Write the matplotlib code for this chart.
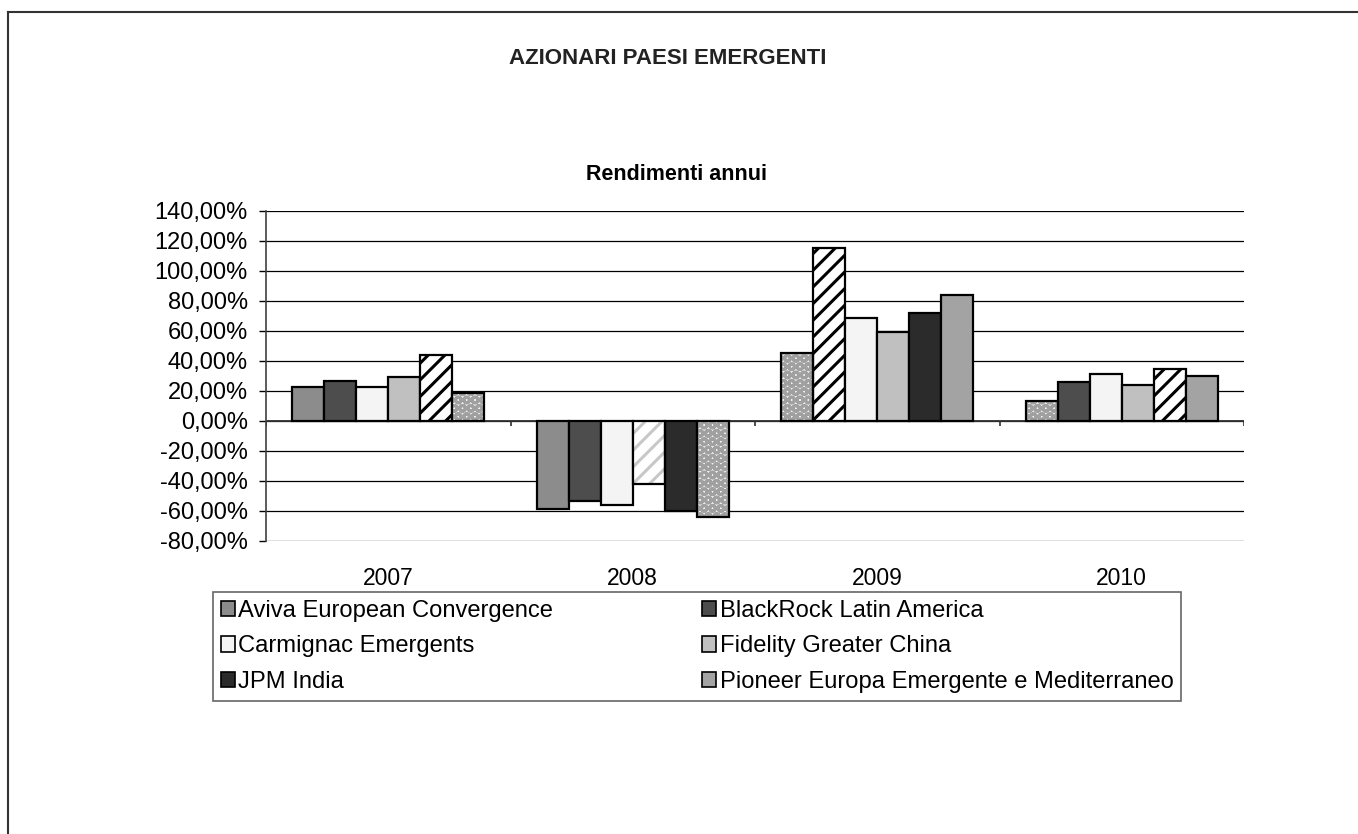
import numpy as np
import matplotlib
matplotlib.use("Agg")
import matplotlib.pyplot as plt
from matplotlib.patches import Patch
from matplotlib.lines import Line2D
from matplotlib.ticker import FuncFormatter

plt.rcParams['font.family'] = ['Liberation Sans', 'DejaVu Sans']
plt.rcParams['hatch.linewidth'] = 2.2

years = ['2007', '2008', '2009', '2010']
funds = ['Aviva European Convergence', 'BlackRock Latin America',
         'Carmignac Emergents', 'Fidelity Greater China',
         'JPM India', 'Pioneer Europa Emergente e Mediterraneo']

# annual returns in %, one list per fund (2007..2010)
aviva = [22.9, -58.6, 45.5, 13.0]
blackrock = [26.7, -53.2, 115.0, 25.7]
carmignac = [22.4, -56.2, 68.6, 31.0]
fidelity = [29.1, -42.2, 59.0, 24.0]
jpm = [44.2, -60.2, 72.0, 34.6]
pioneer = [18.4, -64.0, 84.0, 29.7]
returns = [aviva, blackrock, carmignac, fidelity, jpm, pioneer]

# legend swatch colours per fund
fund_colors = ['#8c8c8c', '#4d4d4d', '#f4f4f4', '#c0c0c0', '#2b2b2b', '#a3a3a3']

# fill used for every bar (rows = years, cols = funds) as it appears in the picture
fills = [
    ['c0', 'c1', 'c2', 'c3', 'stripe', 'dots'],
    ['c0', 'c1', 'c2', 'stripe_light', 'c4', 'dots'],
    ['dots', 'stripe', 'c2', 'c3', 'c4', 'c5'],
    ['dots', 'c1', 'c2', 'c3', 'stripe', 'c5'],
]


def draw_bar(ax, x, h, w, kind):
    if kind.startswith('c'):
        ax.bar(x, h, w, color=fund_colors[int(kind[1])], edgecolor='black',
               linewidth=1.6, zorder=3)
        return
    if kind == 'stripe':
        ax.bar(x, h, w, color='white', edgecolor='black', hatch='//',
               linewidth=1.6, zorder=3)
        return
    if kind == 'stripe_light':
        ax.bar(x, h, w, color='white', edgecolor='#c8c8c8', hatch='//',
               linewidth=0, zorder=3)
    else:
        ax.bar(x, h, w, color='#f2f2f2', edgecolor='#a0a0a0', hatch='OO',
               linewidth=0, zorder=3)
    ax.bar(x, h, w, fill=False, edgecolor='black', linewidth=1.6, zorder=4)


fig = plt.figure(figsize=(13.58, 8.34), dpi=100)
ax = fig.add_axes([266 / 1358, 1 - 541 / 834, (1244 - 266) / 1358, 330 / 834])

n = len(funds)
w = 0.131
xs = np.arange(len(years))
for j in range(len(years)):
    for i in range(n):
        draw_bar(ax, xs[j] + (i - (n - 1) / 2) * w, returns[i][j], w, fills[j][i])

ax.set_xlim(-0.5, len(years) - 0.5)
ax.set_ylim(-80, 140)
ax.set_yticks(np.arange(-80, 141, 20))
ax.yaxis.set_major_formatter(FuncFormatter(lambda v, p: ('%.2f%%' % v).replace('.', ',')))
ax.yaxis.grid(True, color='black', linewidth=0.9, zorder=0)
ax.set_axisbelow(True)

ax.set_xticks(xs)
ax.set_xticklabels(years)
ax.tick_params(axis='x', length=0, pad=18.5, labelsize=16.5)
ax.tick_params(axis='y', length=5, width=1, pad=8, labelsize=17)

for s in ['top', 'right', 'bottom']:
    ax.spines[s].set_visible(False)
ax.spines['left'].set_color('#404040')
ax.spines['left'].set_linewidth(1.2)

# category axis on the zero line, with boundary ticks below it
ax.axhline(0, color='#303030', linewidth=1.3, zorder=2)
ax.vlines(np.arange(len(years) + 1) - 0.5, -3.3, 0, color='#303030', linewidth=1.2, zorder=2)

fig.text(0.492, 1 - 59 / 834, 'AZIONARI PAESI EMERGENTI', ha='center', va='center',
         fontsize=16, fontweight='bold', color='#222222')
fig.text(0.4985, 1 - 175 / 834, 'Rendimenti annui', ha='center', va='center',
         fontsize=15.5, fontweight='bold')

# legend filled row by row (matplotlib fills columns first)
order = [0, 2, 4, 1, 3, 5]
handles = [Patch(facecolor=fund_colors[k], edgecolor='black', linewidth=1.2) for k in order]
leg = fig.legend(handles, [funds[k] for k in order], ncol=2, loc='upper left',
                 bbox_to_anchor=(213 / 1358, 1 - 592 / 834),
                 fontsize=17.1, frameon=True, fancybox=False,
                 edgecolor='#404040', handlelength=0.6, handleheight=0.6,
                 handletextpad=0.15, labelspacing=0.58, borderpad=0.32,
                 columnspacing=6.25, borderaxespad=0)
leg.get_frame().set_linewidth(1.2)

# outer chart-area frame (top and left edges visible)
fig.add_artist(Line2D([8 / 1358, 1.1], [1 - 12 / 834, 1 - 12 / 834], color='#333333', linewidth=1.5))
fig.add_artist(Line2D([8 / 1358, 8 / 1358], [1 - 12 / 834, -0.1], color='#333333', linewidth=1.5))

fig.savefig('out.png', dpi=100)
